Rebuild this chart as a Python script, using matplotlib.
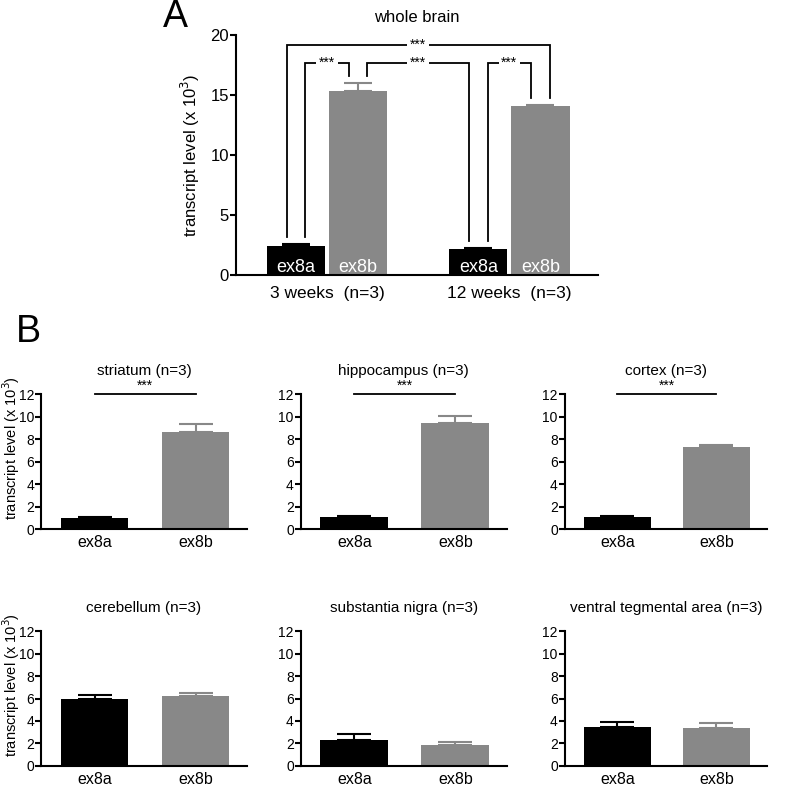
import matplotlib.pyplot as plt

plt.rcParams['font.family'] = ['Liberation Sans', 'DejaVu Sans']

BLACK = "#000000"
GREY = "#888888"

# ---- panel A data (whole brain) ----
groups_a = ["3 weeks  (n=3)", "12 weeks  (n=3)"]
isoforms = ["ex8a", "ex8b"]
wb_mean = [[2.4, 15.35], [2.15, 14.05]]
wb_err = [[0.2, 0.65], [0.1, 0.1]]
# comparisons: (group, isoform, leg side) pairs and bracket height
wb_pairs = [((0, 0, -1), (1, 1, 1), 19.2),
            ((0, 0, 1), (0, 1, -1), 17.7),
            ((0, 1, 1), (1, 0, -1), 17.7),
            ((1, 0, 1), (1, 1, -1), 17.7)]

# ---- panel B data (regions) ----
regions = ["striatum (n=3)", "hippocampus (n=3)", "cortex (n=3)",
           "cerebellum (n=3)", "substantia nigra (n=3)", "ventral tegmental area (n=3)"]
region_mean = [[0.97, 8.65], [1.1, 9.4], [1.1, 7.32],
               [5.95, 6.2], [2.3, 1.87], [3.5, 3.4]]
region_err = [[0.13, 0.68], [0.08, 0.67], [0.05, 0.18],
              [0.32, 0.3], [0.5, 0.23], [0.4, 0.43]]
region_sig = [True, True, True, False, False, False]

colors = [BLACK, GREY]
ylab = "transcript level (x 10$^{3}$)"

fig = plt.figure(figsize=(8, 7.87), dpi=100)


def style(ax, tick_size):
    for s in ["top", "right"]:
        ax.spines[s].set_visible(False)
    for s in ["left", "bottom"]:
        ax.spines[s].set_linewidth(1.5)
    ax.tick_params(axis="y", direction="out", width=1.5, length=4,
                   labelsize=tick_size, pad=1)
    ax.tick_params(axis="x", length=0, pad=4)


# ---- panel A ----
axA = fig.add_axes([0.295, 0.6506, 0.4525, 0.305])
style(axA, 12)
axA.tick_params(axis="x", labelsize=12.5, pad=8)
group_x = [0.0, 3.14]
offset = [0.0, 1.07]
pos = [[gx + o for o in offset] for gx in group_x]
for g in range(2):
    for k in range(2):
        x = pos[g][k]
        axA.bar(x, wb_mean[g][k], width=1.0, color=colors[k])
        axA.errorbar(x, wb_mean[g][k], yerr=[[0], [wb_err[g][k]]], fmt="none",
                     ecolor=colors[k], elinewidth=1.5, capsize=10, capthick=1.5)
        axA.text(x, 0.6, isoforms[k], color="white", ha="center", va="center",
                 fontsize=13)

leg_off = 0.16
for (g1, k1, s1), (g2, k2, s2), h in wb_pairs:
    x1 = pos[g1][k1] + s1 * leg_off
    x2 = pos[g2][k2] + s2 * leg_off
    y1 = wb_mean[g1][k1] + wb_err[g1][k1] + 0.6
    y2 = wb_mean[g2][k2] + wb_err[g2][k2] + 0.6
    axA.plot([x1, x1, x2, x2], [y1, h, h, y2], color="black", lw=1.3,
             clip_on=False, solid_joinstyle="miter")
    axA.text((x1 + x2) / 2, h, "***", ha="center", va="center", fontsize=10,
             bbox=dict(facecolor="white", edgecolor="none", pad=2))

axA.set_xlim(-1.03, 5.2)
axA.set_ylim(0, 20)
axA.set_yticks([0, 5, 10, 15, 20])
axA.set_xticks([(p[0] + p[1]) / 2 for p in pos])
axA.set_xticklabels(groups_a)
axA.set_ylabel(ylab, fontsize=12, labelpad=6)
axA.set_title("whole brain", fontsize=12, pad=9)
fig.text(0.219, 0.978, "A", fontsize=27, ha="center", va="center")

# ---- panel B ----
fig.text(0.035, 0.578, "B", fontsize=27, ha="center", va="center")
lefts = [0.05125, 0.376, 0.706]
bottoms = [0.3278, 0.0267]
widths = [0.2575, 0.2575, 0.2525]
label_y = [0.431, 0.1296]
for i, name in enumerate(regions):
    r, c = divmod(i, 3)
    ax = fig.add_axes([lefts[c], bottoms[r], widths[c], 0.1715])
    style(ax, 10)
    ax.tick_params(axis="x", labelsize=11.5)
    for k in range(2):
        ax.bar(k, region_mean[i][k], width=0.673, color=colors[k])
        ax.errorbar(k, region_mean[i][k], yerr=[[0], [region_err[i][k]]], fmt="none",
                    ecolor=colors[k], elinewidth=1.5, capsize=12, capthick=1.5)
    if region_sig[i]:
        ax.plot([0, 1], [12, 12], color="black", lw=1.3, clip_on=False)
        ax.text(0.5, 12.1, "***", ha="center", va="bottom", fontsize=10)
    ax.set_xlim(-0.53, 1.51)
    ax.set_ylim(0, 12)
    ax.set_yticks(range(0, 13, 2))
    ax.set_xticks([0, 1])
    ax.set_xticklabels(isoforms)
    ax.set_title(name, fontsize=11, pad=14)
    if c == 0:
        fig.text(0.0145, label_y[r], ylab, rotation=90, fontsize=10.5,
                 ha="center", va="center")

fig.savefig("out.png", dpi=100)
